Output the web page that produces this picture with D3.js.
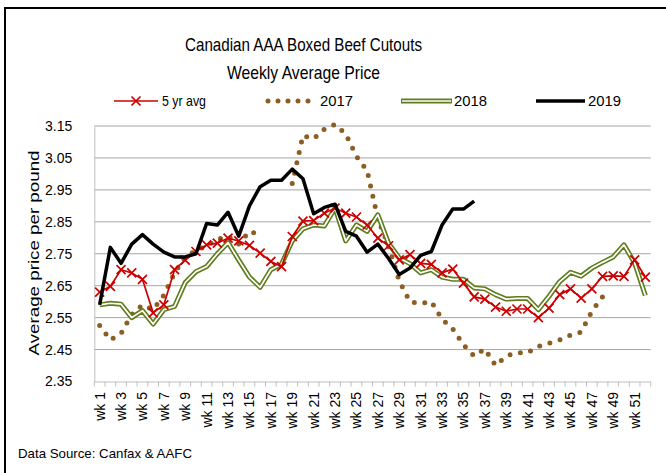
<!DOCTYPE html>
<html><head><meta charset="utf-8">
<script src="https://cdn.jsdelivr.net/npm/d3@7"></script>
<style>
body{margin:0;background:#fff;}
text{font-family:"Liberation Sans",Arial,sans-serif;}
</style></head>
<body>
<svg id="c" width="666" height="473"></svg>
<script>
const weeks = d3.range(1, 53);
const tickLabels = weeks.filter(w => w % 2 === 1).map(w => "wk " + w);
const yTicks = [2.35, 2.45, 2.55, 2.65, 2.75, 2.85, 2.95, 3.05, 3.15];

const avg5 = [2.63,2.648,2.70,2.69,2.67,2.565,2.59,2.70,2.73,2.757,2.778,2.783,2.799,2.79,2.776,2.752,2.726,2.71,2.804,2.852,2.854,2.877,2.893,2.877,2.865,2.84,2.799,2.775,2.731,2.747,2.72,2.717,2.69,2.702,2.658,2.615,2.608,2.583,2.57,2.577,2.577,2.55,2.58,2.622,2.64,2.611,2.64,2.679,2.681,2.679,2.731,2.677];
const y2017 = [2.525,2.48,2.50,2.56,2.59,2.575,2.62,2.69,2.74,2.76,2.775,2.795,2.805,2.78,2.82,2.81,null,null,2.97,3.12,3.11,3.14,3.155,3.125,3.055,3.01,2.86,2.775,2.665,2.60,2.594,2.60,2.545,2.515,2.465,2.43,2.452,2.40,2.43,2.44,2.44,2.46,2.47,2.48,2.495,2.505,2.57,2.615,null,null,null,null];
const y2018 = [2.59,2.595,2.592,2.55,2.572,2.53,2.575,2.585,2.66,2.694,2.71,2.75,2.785,2.73,2.677,2.645,2.70,2.718,2.79,2.828,2.84,2.837,2.893,2.79,2.84,2.82,2.872,2.783,2.737,2.719,2.69,2.70,2.677,2.67,2.67,2.643,2.64,2.622,2.608,2.61,2.61,2.575,2.617,2.663,2.692,2.68,2.705,2.723,2.74,2.778,2.721,2.619];
const y2019 = [2.59,2.77,2.72,2.78,2.81,2.78,2.755,2.74,2.74,2.75,2.845,2.84,2.88,2.805,2.90,2.96,2.98,2.98,3.015,2.985,2.875,2.895,2.905,2.82,2.805,2.755,2.78,2.735,2.685,2.705,2.745,2.757,2.84,2.89,2.89,2.915];

const RED = "#cc0000", BROWN = "#8c5e24", GREEN = "#5f7d1c";
const svg = d3.select("#c");

// frame
svg.append("line").attr("x1",5).attr("x2",5).attr("y1",8).attr("y2",473).attr("stroke","#000").attr("stroke-width",2);
svg.append("line").attr("x1",4).attr("x2",666).attr("y1",8).attr("y2",8).attr("stroke","#000").attr("stroke-width",2);

const x = d3.scaleBand().domain(weeks).range([94.3, 650.7]).padding(0);
const y = d3.scaleLinear().domain([2.35, 3.15]).range([381.5, 126]);
const cx = w => x(w) + x.bandwidth() / 2;

// grid
svg.append("g").selectAll("line").data(yTicks.slice(1)).join("line")
  .attr("x1", 94.3).attr("x2", 650.7).attr("y1", d => y(d)).attr("y2", d => y(d))
  .attr("stroke", "#a6a6a6").attr("stroke-width", 1);

// y axis
const ya = svg.append("g").attr("transform", "translate(94.3,0)")
  .call(d3.axisLeft(y).tickValues(yTicks).tickFormat(d3.format(".2f")).tickSize(0).tickPadding(22));
ya.select(".domain").attr("stroke", "#bfbfbf");
ya.selectAll("text").attr("font-size", 14).attr("fill", "#000");

// x axis
const xa = svg.append("g").attr("transform", "translate(0,381.5)")
  .call(d3.axisBottom(x).tickSize(0).tickFormat(d => d % 2 === 1 ? "wk " + d : ""));
xa.select(".domain").attr("stroke", "#bfbfbf");
xa.selectAll(".tick").attr("transform", d => `translate(${cx(d)},0)`);
xa.selectAll("text").attr("font-size", 14).attr("fill", "#000")
  .attr("text-anchor", "end").attr("x", 0).attr("y", 0)
  .attr("dx", "-0.75em").attr("dy", "0.35em")
  .attr("transform", "rotate(-90)");
svg.append("g").selectAll("line").data(d3.range(53)).join("line")
  .attr("x1", i => 94.3 + i * x.bandwidth()).attr("x2", i => 94.3 + i * x.bandwidth())
  .attr("y1", 381.5).attr("y2", 386.5).attr("stroke", "#bfbfbf");

const line = d3.line().defined(d => d[1] != null).x(d => cx(d[0])).y(d => y(d[1]));
const pts = arr => arr.map((v, i) => [weeks[i], v]);

// 2017 round dots
svg.append("path").attr("d", line(pts(y2017))).attr("fill", "none")
  .attr("stroke", BROWN).attr("stroke-width", 5).attr("stroke-linecap", "round")
  .attr("stroke-dasharray", "0 10.6");
// 2018 double
svg.append("path").attr("d", line(pts(y2018))).attr("fill", "none")
  .attr("stroke", GREEN).attr("stroke-width", 5).attr("stroke-linejoin", "round");
svg.append("path").attr("d", line(pts(y2018))).attr("fill", "none")
  .attr("stroke", "#fff").attr("stroke-width", 1.7).attr("stroke-linejoin", "round");
// 5 yr avg
svg.append("path").attr("d", line(pts(avg5))).attr("fill", "none")
  .attr("stroke", RED).attr("stroke-width", 1.7);
const xm = "M-4.5,-4.5L4.5,4.5M-4.5,4.5L4.5,-4.5";
svg.append("g").selectAll("path").data(pts(avg5)).join("path")
  .attr("d", xm).attr("transform", d => `translate(${cx(d[0])},${y(d[1])})`)
  .attr("stroke", RED).attr("stroke-width", 1.7).attr("fill", "none");
// 2019
svg.append("path").attr("d", line(pts(y2019))).attr("fill", "none")
  .attr("stroke", "#000").attr("stroke-width", 3.5).attr("stroke-linejoin", "round");

// titles
svg.append("text").attr("x", 303.5).attr("y", 51).attr("text-anchor", "middle").attr("font-size", 19)
  .attr("textLength", 237).attr("lengthAdjust", "spacingAndGlyphs").text("Canadian AAA Boxed Beef Cutouts");
svg.append("text").attr("x", 303.5).attr("y", 79).attr("text-anchor", "middle").attr("font-size", 19)
  .attr("textLength", 153).attr("lengthAdjust", "spacingAndGlyphs").text("Weekly Average Price");
svg.append("text").attr("transform", "translate(39,253) rotate(-90)").attr("text-anchor", "middle").attr("font-size", 15.5)
  .attr("textLength", 205).attr("lengthAdjust", "spacingAndGlyphs").text("Average price per pound");
svg.append("text").attr("x", 18).attr("y", 458).attr("font-size", 13)
  .attr("textLength", 174).attr("lengthAdjust", "spacingAndGlyphs").text("Data Source: Canfax & AAFC");

// legend
const ly = 101;
const lg = svg.append("g");
lg.append("line").attr("x1", 114).attr("x2", 158).attr("y1", ly).attr("y2", ly).attr("stroke", RED).attr("stroke-width", 1.7);
lg.append("path").attr("d", xm).attr("transform", `translate(136,${ly})`).attr("stroke", RED).attr("stroke-width", 1.7);
lg.append("text").attr("x", 162).attr("y", ly + 5).attr("font-size", 15)
  .attr("textLength", 44).attr("lengthAdjust", "spacingAndGlyphs").text("5 yr avg");
lg.append("line").attr("x1", 268).attr("x2", 318).attr("y1", ly).attr("y2", ly).attr("stroke", BROWN).attr("stroke-width", 5).attr("stroke-linecap", "round").attr("stroke-dasharray", "0 10");
lg.append("text").attr("x", 320).attr("y", ly + 5).attr("font-size", 15)
  .attr("textLength", 33).attr("lengthAdjust", "spacingAndGlyphs").text("2017");
lg.append("line").attr("x1", 401).attr("x2", 452).attr("y1", ly).attr("y2", ly).attr("stroke", GREEN).attr("stroke-width", 5);
lg.append("line").attr("x1", 402).attr("x2", 451).attr("y1", ly).attr("y2", ly).attr("stroke", "#fff").attr("stroke-width", 1.7);
lg.append("text").attr("x", 454).attr("y", ly + 5).attr("font-size", 15)
  .attr("textLength", 33).attr("lengthAdjust", "spacingAndGlyphs").text("2018");
lg.append("line").attr("x1", 536).attr("x2", 585).attr("y1", ly).attr("y2", ly).attr("stroke", "#000").attr("stroke-width", 3.5);
lg.append("text").attr("x", 588).attr("y", ly + 5).attr("font-size", 15)
  .attr("textLength", 33).attr("lengthAdjust", "spacingAndGlyphs").text("2019");
</script>
</body></html>
